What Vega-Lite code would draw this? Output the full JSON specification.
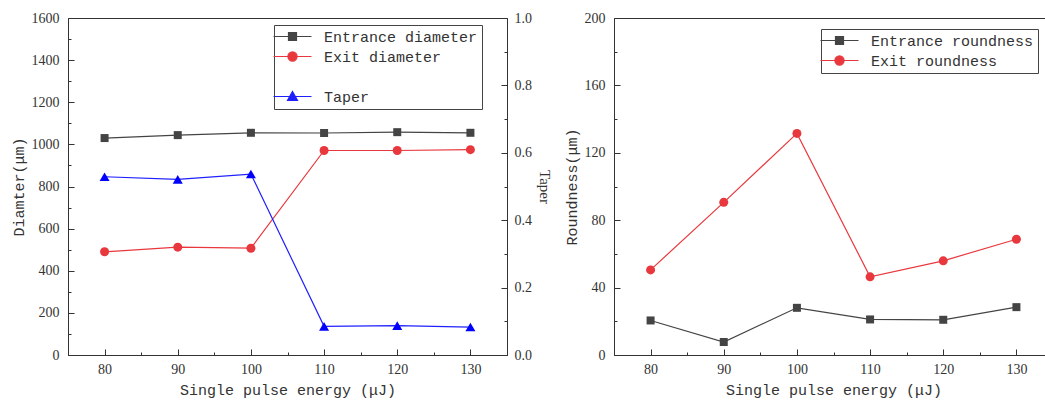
{
  "$schema": "https://vega.github.io/schema/vega-lite/v6.json",
  "padding": {"left": 10, "top": 10, "right": 0, "bottom": 0},
  "spacing": 11,
  "data": {"values": [
    {"energy": 80, "series": "Entrance diameter", "value": 1030},
    {"energy": 90, "series": "Entrance diameter", "value": 1044},
    {"energy": 100, "series": "Entrance diameter", "value": 1055},
    {"energy": 110, "series": "Entrance diameter", "value": 1054},
    {"energy": 120, "series": "Entrance diameter", "value": 1058},
    {"energy": 130, "series": "Entrance diameter", "value": 1055},
    {"energy": 80, "series": "Exit diameter", "value": 490},
    {"energy": 90, "series": "Exit diameter", "value": 512},
    {"energy": 100, "series": "Exit diameter", "value": 507},
    {"energy": 110, "series": "Exit diameter", "value": 971},
    {"energy": 120, "series": "Exit diameter", "value": 971},
    {"energy": 130, "series": "Exit diameter", "value": 975},
    {"energy": 80, "series": "Taper", "value": 0.529},
    {"energy": 90, "series": "Taper", "value": 0.521},
    {"energy": 100, "series": "Taper", "value": 0.537},
    {"energy": 110, "series": "Taper", "value": 0.085},
    {"energy": 120, "series": "Taper", "value": 0.087},
    {"energy": 130, "series": "Taper", "value": 0.083},
    {"energy": 80, "series": "Entrance roundness", "value": 20.5},
    {"energy": 90, "series": "Entrance roundness", "value": 7.7},
    {"energy": 100, "series": "Entrance roundness", "value": 28.0},
    {"energy": 110, "series": "Entrance roundness", "value": 21.1},
    {"energy": 120, "series": "Entrance roundness", "value": 20.9},
    {"energy": 130, "series": "Entrance roundness", "value": 28.4},
    {"energy": 80, "series": "Exit roundness", "value": 50.5},
    {"energy": 90, "series": "Exit roundness", "value": 90.6},
    {"energy": 100, "series": "Exit roundness", "value": 131.5},
    {"energy": 110, "series": "Exit roundness", "value": 46.4},
    {"energy": 120, "series": "Exit roundness", "value": 55.9},
    {"energy": 130, "series": "Exit roundness", "value": 68.7}
  ]},
  "hconcat": [
    {
      "width": 439,
      "height": 337,
      "resolve": {"scale": {"y": "independent"}, "axis": {"x": "independent", "y": "independent"}},
      "layer": [
        {
          "transform": [{"filter": "datum.series === 'Entrance diameter' || datum.series === 'Exit diameter'"}],
          "mark": {"type": "line", "strokeWidth": 1.2},
          "encoding": {
            "x": {"field": "energy", "type": "quantitative", "scale": {"domain": [75, 135], "nice": false, "zero": false},
                  "axis": {"orient": "bottom", "values": [80, 90, 100, 110, 120, 130], "title": "Single pulse energy (μJ)", "ticks": false, "tickSize": 0, "labelPadding": 7, "titlePadding": 6}},
            "y": {"field": "value", "type": "quantitative", "scale": {"domain": [0, 1600], "nice": false, "zero": true},
                  "axis": {"orient": "left", "values": [0, 200, 400, 600, 800, 1000, 1200, 1400, 1600], "format": "d", "title": "Diamter(μm)", "ticks": false, "tickSize": 0, "labelPadding": 9, "titlePadding": 5}},
            "color": {"field": "series", "type": "nominal",
                      "scale": {"domain": ["Entrance diameter", "Exit diameter", " ", "Taper"], "range": ["#444444", "#e8383d", "#ffffff", "#2020ff"]},
                      "legend": {"title": null, "orient": "none", "legendX": 206, "legendY": 7}}
          }
        },
        {
          "transform": [{"filter": "datum.series === 'Taper'"}],
          "mark": {"type": "line", "strokeWidth": 1.2},
          "encoding": {
            "x": {"field": "energy", "type": "quantitative", "axis": null},
            "y": {"field": "value", "type": "quantitative", "scale": {"domain": [0, 1], "nice": false, "zero": true},
                  "axis": {"orient": "right", "values": [0, 0.2, 0.4, 0.6, 0.8, 1.0], "format": ".1f", "title": "Taper", "titleFont": "Liberation Serif", "ticks": false, "tickSize": 0, "labelPadding": 7, "titlePadding": 5}},
            "color": {"field": "series", "type": "nominal"}
          }
        },
        {
          "transform": [{"filter": "false"}],
          "mark": {"type": "point", "filled": true, "opacity": 1},
          "encoding": {
            "x": {"field": "energy", "type": "quantitative",
                  "axis": {"orient": "bottom", "values": [80, 90, 100, 110, 120, 130], "labels": false, "domain": false, "tickSize": 6, "offset": -6, "title": null}},
            "y": {"field": "value", "type": "quantitative", "scale": {"domain": [0, 1600], "nice": false, "zero": true},
                  "axis": {"orient": "left", "values": [0, 200, 400, 600, 800, 1000, 1200, 1400, 1600], "labels": false, "domain": false, "tickSize": 6, "offset": -6, "title": null}},
            "color": {"field": "series", "type": "nominal"},
            "shape": {"field": "series", "type": "nominal",
                      "scale": {"domain": ["Entrance diameter", "Exit diameter", " ", "Taper"],
                                "range": ["M-3,0H6.5M0.75,-1H2.75V1H0.75Z", "M-3,0H6.5M0.6,0A1.15,1.15,0,1,0,2.9,0A1.15,1.15,0,1,0,0.6,0Z", "M0,0", "M-3,0H6.5M1.75,-1.25L3,0.95L0.5,0.95Z"]}}
          }
        },
        {
          "transform": [{"filter": "datum.series === 'Entrance diameter'"}],
          "mark": {"type": "point", "shape": "square", "filled": true, "opacity": 1, "color": "#444444", "size": 64},
          "encoding": {
            "x": {"field": "energy", "type": "quantitative",
                  "axis": {"orient": "bottom", "values": [85, 95, 105, 115, 125], "labels": false, "domain": false, "tickSize": 3, "offset": -3, "title": null}},
            "y": {"field": "value", "type": "quantitative", "scale": {"domain": [0, 1600], "nice": false, "zero": true},
                  "axis": {"orient": "left", "values": [100, 300, 500, 700, 900, 1100, 1300, 1500], "labels": false, "domain": false, "tickSize": 3, "offset": -3, "title": null}}
          }
        },
        {
          "transform": [{"filter": "datum.series === 'Exit diameter'"}],
          "mark": {"type": "point", "shape": "circle", "filled": true, "opacity": 1, "color": "#e8383d", "size": 81},
          "encoding": {
            "x": {"field": "energy", "type": "quantitative", "axis": null},
            "y": {"field": "value", "type": "quantitative", "scale": {"domain": [0, 1600], "nice": false, "zero": true}, "axis": null}
          }
        },
        {
          "transform": [{"filter": "datum.series === 'Taper'"}],
          "mark": {"type": "point", "shape": "triangle-up", "filled": true, "opacity": 1, "color": "#0000ff", "size": 100},
          "encoding": {
            "x": {"field": "energy", "type": "quantitative", "axis": null},
            "y": {"field": "value", "type": "quantitative", "scale": {"domain": [0, 1], "nice": false, "zero": true},
                  "axis": {"orient": "right", "values": [0, 0.2, 0.4, 0.6, 0.8, 1.0], "labels": false, "domain": false, "tickSize": 6, "offset": -6, "title": null}}
          }
        },
        {
          "transform": [{"filter": "false"}],
          "mark": {"type": "point"},
          "encoding": {
            "x": {"field": "energy", "type": "quantitative", "axis": null},
            "y": {"field": "value", "type": "quantitative", "scale": {"domain": [0, 1], "nice": false, "zero": true},
                  "axis": {"orient": "right", "values": [0.1, 0.3, 0.5, 0.7, 0.9], "labels": false, "domain": false, "tickSize": 3, "offset": -3, "title": null}}
          }
        }
      ]
    },
    {
      "width": 439,
      "height": 337,
      "resolve": {"axis": {"x": "independent", "y": "independent"}},
      "layer": [
        {
          "transform": [{"filter": "datum.series === 'Entrance roundness' || datum.series === 'Exit roundness'"}],
          "mark": {"type": "line", "strokeWidth": 1.2},
          "encoding": {
            "x": {"field": "energy", "type": "quantitative", "scale": {"domain": [75, 135], "nice": false, "zero": false},
                  "axis": {"orient": "bottom", "values": [80, 90, 100, 110, 120, 130], "title": "Single pulse energy (μJ)", "ticks": false, "tickSize": 0, "labelPadding": 7, "titlePadding": 6}},
            "y": {"field": "value", "type": "quantitative", "scale": {"domain": [0, 200], "nice": false, "zero": true},
                  "axis": {"orient": "left", "values": [0, 40, 80, 120, 160, 200], "title": "Roundness(μm)", "ticks": false, "tickSize": 0, "labelPadding": 9, "titlePadding": 5}},
            "color": {"field": "series", "type": "nominal",
                      "scale": {"domain": ["Entrance roundness", "Exit roundness"], "range": ["#444444", "#e8383d"]},
                      "legend": {"title": null, "orient": "none", "legendX": 207, "legendY": 11}}
          }
        },
        {
          "transform": [{"filter": "false"}],
          "mark": {"type": "point", "filled": true, "opacity": 1},
          "encoding": {
            "x": {"field": "energy", "type": "quantitative",
                  "axis": {"orient": "bottom", "values": [80, 90, 100, 110, 120, 130], "labels": false, "domain": false, "tickSize": 6, "offset": -6, "title": null}},
            "y": {"field": "value", "type": "quantitative",
                  "axis": {"orient": "left", "values": [0, 40, 80, 120, 160, 200], "labels": false, "domain": false, "tickSize": 6, "offset": -6, "title": null}},
            "color": {"field": "series", "type": "nominal"},
            "shape": {"field": "series", "type": "nominal",
                      "scale": {"domain": ["Entrance roundness", "Exit roundness"],
                                "range": ["M-3,0H6.5M0.75,-1H2.75V1H0.75Z", "M-3,0H6.5M0.6,0A1.15,1.15,0,1,0,2.9,0A1.15,1.15,0,1,0,0.6,0Z"]}}
          }
        },
        {
          "transform": [{"filter": "datum.series === 'Entrance roundness'"}],
          "mark": {"type": "point", "shape": "square", "filled": true, "opacity": 1, "color": "#444444", "size": 64},
          "encoding": {
            "x": {"field": "energy", "type": "quantitative",
                  "axis": {"orient": "bottom", "values": [85, 95, 105, 115, 125], "labels": false, "domain": false, "tickSize": 3, "offset": -3, "title": null}},
            "y": {"field": "value", "type": "quantitative",
                  "axis": {"orient": "left", "values": [20, 60, 100, 140, 180], "labels": false, "domain": false, "tickSize": 3, "offset": -3, "title": null}}
          }
        },
        {
          "transform": [{"filter": "datum.series === 'Exit roundness'"}],
          "mark": {"type": "point", "shape": "circle", "filled": true, "opacity": 1, "color": "#e8383d", "size": 81},
          "encoding": {
            "x": {"field": "energy", "type": "quantitative", "axis": null},
            "y": {"field": "value", "type": "quantitative", "axis": null}
          }
        }
      ]
    }
  ],
  "resolve": {"scale": {"color": "independent", "shape": "independent"}, "legend": {"color": "independent", "shape": "independent"}},
  "config": {
    "view": {"stroke": "#333333", "strokeWidth": 1},
    "axis": {
      "grid": false,
      "domainColor": "#333333",
      "tickColor": "#333333",
      "labelFont": "Liberation Serif",
      "labelFontSize": 14,
      "labelColor": "#333333",
      "titleFont": "Liberation Mono",
      "titleFontSize": 15,
      "titleFontWeight": "normal",
      "titleColor": "#333333",
      "labelFlush": false
    },
    "legend": {
      "labelFont": "Liberation Mono",
      "labelFontSize": 15,
      "labelColor": "#333333",
      "strokeColor": "#444444",
      "fillColor": "#ffffff",
      "padding": 4,
      "rowPadding": 4,
      "symbolSize": 64,
      "symbolStrokeWidth": 1.2,
      "symbolOpacity": 1,
      "labelOffset": 31,
      "labelLimit": 400
    }
  }
}
